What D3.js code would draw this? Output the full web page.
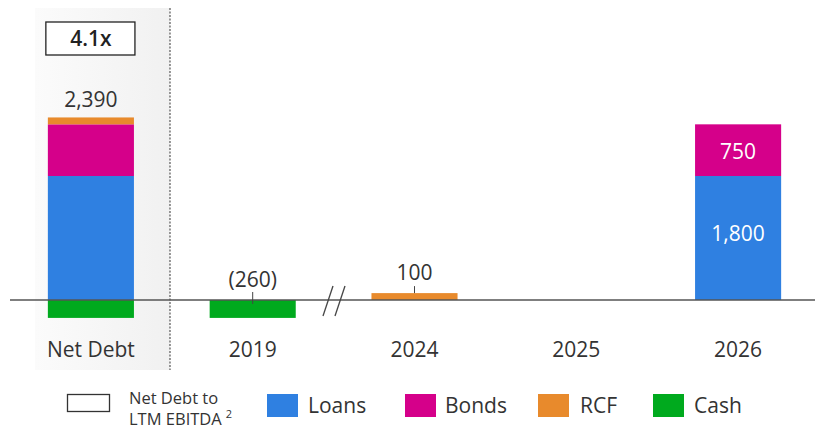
<!DOCTYPE html>
<html><head><meta charset="utf-8">
<script src="https://cdn.jsdelivr.net/npm/d3@7"></script>
<style>body{margin:0;background:#fff}svg{display:block}text{font-family:"Open Sans","Noto Sans",sans-serif;fill:#333}</style>
</head><body><svg id="c" width="815" height="430"></svg>
<script>
const categories = ["Net Debt","2019","2024","2025","2026"];
const seriesNames = ["Loans","Bonds","RCF","Cash"];
const loans = [1800, 0, 0, 0, 1800];
const bonds = [750, 0, 0, 0, 750];
const rcf   = [100, 0, 100, 0, 0];
const cash  = [-260, -260, 0, 0, 0];
const totalLabels = ["2,390","(260)","100","",""];
const leverage = "4.1x";
const colors = {Loans:"#2F80E1", Bonds:"#D5008A", RCF:"#E88A2C", Cash:"#00AA1E"};

const svg = d3.select("#c");
const x = d3.scaleBand().domain(categories).range([10, 819]).paddingInner(0.468).paddingOuter(0.234);
const y = d3.scaleLinear().domain([0, 1800]).range([300, 176]);

// grey panel
const defs = svg.append("defs");
const g = defs.append("linearGradient").attr("id","pg").attr("x1","0").attr("x2","1");
g.append("stop").attr("offset","0").attr("stop-color","#fbfbfb");
g.append("stop").attr("offset","1").attr("stop-color","#f1f1f1");
svg.append("rect").attr("x",35).attr("y",8).attr("width",135).attr("height",362).attr("fill","url(#pg)");
svg.append("line").attr("x1",170).attr("x2",170).attr("y1",8).attr("y2",370)
  .attr("stroke","#555").attr("stroke-width",1.2).attr("stroke-dasharray","2,1.5");

// stacks
const data = categories.map((c,i)=>({cat:c, Loans:loans[i], Bonds:bonds[i], RCF:rcf[i], Cash:cash[i]}));
const stack = d3.stack().keys(seriesNames).offset(d3.stackOffsetDiverging);
const layers = stack(data);
layers.forEach(layer=>{
  svg.append("g").selectAll("rect").data(layer.filter(d=>d[1]!==d[0])).join("rect")
    .attr("x",d=>x(d.data.cat)).attr("width",x.bandwidth())
    .attr("y",d=>y(Math.max(d[0],d[1]))).attr("height",d=>Math.abs(y(d[0])-y(d[1])))
    .attr("fill",colors[layer.key]);
});

// baseline
svg.append("line").attr("x1",10).attr("x2",815).attr("y1",y(0)).attr("y2",y(0)).attr("stroke","#555").attr("stroke-width",1.5);

// break marks
[[323,333],[335,345]].forEach(p=>{
  svg.append("line").attr("x1",p[0]).attr("y1",316).attr("x2",p[1]).attr("y2",286).attr("stroke","#444").attr("stroke-width",1.3);
});

const cx = c => x(c)+x.bandwidth()/2;
const fs = 21;
// net debt label
svg.append("text").attr("x",cx("Net Debt")).attr("y",y(loans[0]+bonds[0]+rcf[0])-10).attr("text-anchor","middle").attr("font-size",fs).text(totalLabels[0]);
// leverage box
svg.append("rect").attr("x",x("Net Debt")-2).attr("y",22).attr("width",x.bandwidth()+3).attr("height",33).attr("fill","#fff").attr("stroke","#222").attr("stroke-width",1.3);
svg.append("text").attr("x",cx("Net Debt")).attr("y",46).attr("text-anchor","middle").attr("font-size",fs).attr("font-weight",600).style("fill","#222").text(leverage);

// 2019 label with tick
svg.append("line").attr("x1",cx("2019")).attr("x2",cx("2019")).attr("y1",y(0)-8).attr("y2",y(0)+4).attr("stroke","#444");
svg.append("text").attr("x",cx("2019")).attr("y",y(0)-13).attr("text-anchor","middle").attr("font-size",fs).text(totalLabels[1]);
// 2024 label
svg.append("line").attr("x1",cx("2024")).attr("x2",cx("2024")).attr("y1",y(100)-7).attr("y2",y(100)).attr("stroke","#444");
svg.append("text").attr("x",cx("2024")).attr("y",y(100)-13).attr("text-anchor","middle").attr("font-size",fs).text(totalLabels[2]);

// inside labels 2026
svg.append("text").attr("x",cx("2026")).attr("y",(y(1800)+y(2550))/2+9).attr("text-anchor","middle").attr("font-size",fs).style("fill","#fff").text(d3.format(",")(bonds[4]));
svg.append("text").attr("x",cx("2026")).attr("y",(y(0)+y(1800))/2+3).attr("text-anchor","middle").attr("font-size",fs).style("fill","#fff").text(d3.format(",")(loans[4]));

// x axis labels
svg.append("g").selectAll("text").data(categories).join("text")
  .attr("x",d=>cx(d)).attr("y",357).attr("text-anchor","middle").attr("font-size",fs).text(d=>d);

// legend
svg.append("rect").attr("x",67.5).attr("y",394.5).attr("width",42).attr("height",17).attr("fill","#fff").attr("stroke","#333").attr("stroke-width",1.3);
const lt = svg.append("text").attr("x",129).attr("y",404).attr("font-size",16.5);
lt.append("tspan").text("Net Debt to");
const lt2 = svg.append("text").attr("x",129).attr("y",425).attr("font-size",16.5);
lt2.append("tspan").text("LTM EBITDA");
lt2.append("tspan").attr("dx",4).attr("dy",-7).attr("font-size",11).text("2");
const legX = {Loans:[267,308], Bonds:[405,445], RCF:[538,580], Cash:[653,694]};
seriesNames.forEach(s=>{
  svg.append("rect").attr("x",legX[s][0]).attr("y",394).attr("width",31).attr("height",23).attr("fill",colors[s]);
  svg.append("text").attr("x",legX[s][1]).attr("y",413).attr("font-size",fs).text(s);
});
</script></body></html>
